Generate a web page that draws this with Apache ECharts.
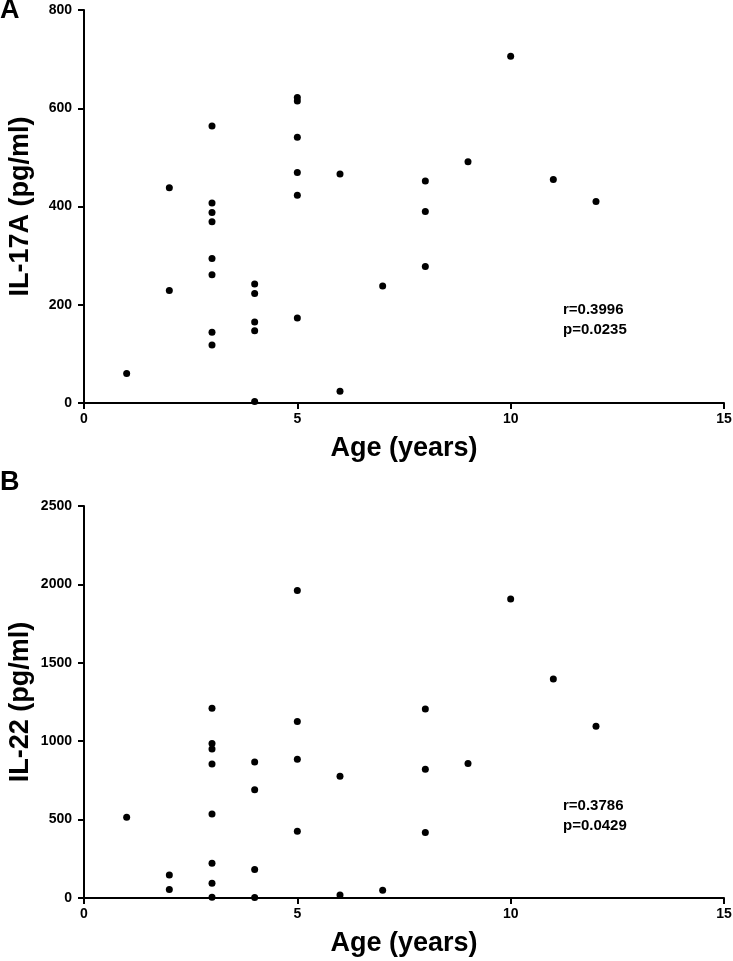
<!DOCTYPE html>
<html><head><meta charset="utf-8">
<script src="https://cdn.jsdelivr.net/npm/echarts@6/dist/echarts.min.js"></script>
<style>html,body{margin:0;padding:0;background:#fff}#c{width:733px;height:961px}</style>
</head><body><div id="c"></div>
<script>
// Panel A: IL-17A vs age
const ageA   = [1, 2, 2, 3, 3, 3, 3, 3, 3, 3, 3, 4, 4, 4, 4, 4, 5, 5, 5, 5, 5, 5, 6, 6, 7, 8, 8, 8, 9, 10, 11, 12];
const il17a  = [60, 438, 229, 564, 407, 388, 369, 294, 261, 144, 118, 242, 223, 165, 147, 3, 622, 615, 541, 469, 423, 173, 466, 24, 238, 452, 390, 278, 491, 706, 455, 410];
// Panel B: IL-22 vs age
const ageB   = [1, 2, 2, 3, 3, 3, 3, 3, 3, 3, 3, 4, 4, 4, 4, 5, 5, 5, 5, 6, 6, 7, 8, 8, 8, 9, 10, 11, 12];
const il22   = [515, 147, 55, 1210, 985, 950, 855, 536, 221, 94, 5, 867, 691, 181, 3, 1961, 1125, 885, 425, 776, 19, 49, 1205, 821, 417, 857, 1907, 1397, 1095];
// Axis ticks
const xTicks  = [0, 5, 10, 15];
const yTicksA = [0, 200, 400, 600, 800];
const yTicksB = [0, 500, 1000, 1500, 2000, 2500];
// Texts
const panelLabels = ['A', 'B'];
const xTitle = 'Age (years)';
const yTitles = ['IL-17A (pg/ml)', 'IL-22 (pg/ml)'];
const statsA = ['r=0.3996', 'p=0.0235'];
const statsB = ['r=0.3786', 'p=0.0429'];

const FONT = '"Liberation Sans", Arial, Helvetica, sans-serif';
const chart = echarts.init(document.getElementById('c'), null, {renderer: 'canvas'});

function xAxisFor(gridIndex) {
  return {
    type: 'value', gridIndex: gridIndex,
    min: xTicks[0], max: xTicks[xTicks.length - 1], interval: xTicks[1] - xTicks[0],
    name: xTitle, nameLocation: 'middle', nameGap: 32, nameMoveOverlap: false,
    nameTextStyle: {fontFamily: FONT, fontWeight: 'bold', fontSize: 27, color: '#000'},
    axisLine: {show: true, onZero: false, lineStyle: {color: '#000', width: 2}},
    axisTick: {show: true, inside: false, length: 6, lineStyle: {color: '#000', width: 2}},
    axisLabel: {fontFamily: FONT, fontWeight: 'bold', fontSize: 14, color: '#000', margin: 9,
                formatter: function (v) { return String(v); }},
    splitLine: {show: false}
  };
}
function yAxisFor(gridIndex, ticks, title) {
  return {
    type: 'value', gridIndex: gridIndex,
    min: ticks[0], max: ticks[ticks.length - 1], interval: ticks[1] - ticks[0],
    name: title, nameLocation: 'middle', nameGap: 50, nameMoveOverlap: false,
    nameTextStyle: {fontFamily: FONT, fontWeight: 'bold', fontSize: 27, color: '#000'},
    axisLine: {show: true, onZero: false, lineStyle: {color: '#000', width: 2}},
    axisTick: {show: true, inside: false, length: 6, lineStyle: {color: '#000', width: 2}},
    axisLabel: {fontFamily: FONT, fontWeight: 'bold', fontSize: 14, color: '#000', margin: 12,
                formatter: function (v) { return String(v); }},
    splitLine: {show: false}
  };
}
function statText(lines, x, y) {
  return lines.map(function (t, i) {
    return {
      type: 'text', x: x, y: y + i * 20,
      style: {text: t, fontFamily: FONT, fontWeight: 'bold', fontSize: 15,
              fill: '#000', textAlign: 'left', textVerticalAlign: 'middle'}
    };
  });
}

chart.setOption({
  backgroundColor: '#fff',
  animation: false,
  grid: [
    {left: 84, top: 10, width: 640, height: 393, outerBoundsMode: 'none', containLabel: false},
    {left: 84, top: 506, width: 640, height: 392, outerBoundsMode: 'none', containLabel: false}
  ],
  xAxis: [xAxisFor(0), xAxisFor(1)],
  yAxis: [yAxisFor(0, yTicksA, yTitles[0]), yAxisFor(1, yTicksB, yTitles[1])],
  series: [
    {type: 'scatter', xAxisIndex: 0, yAxisIndex: 0, symbol: 'circle', symbolSize: 7, clip: false,
     itemStyle: {color: '#000', opacity: 1}, data: ageA.map(function (a, i) { return [a, il17a[i]]; })},
    {type: 'scatter', xAxisIndex: 1, yAxisIndex: 1, symbol: 'circle', symbolSize: 7, clip: false,
     itemStyle: {color: '#000', opacity: 1}, data: ageB.map(function (a, i) { return [a, il22[i]]; })}
  ],
  graphic: [
    {type: 'text', x: 0, y: 11, style: {text: panelLabels[0], fontFamily: FONT, fontWeight: 'bold', fontSize: 27, fill: '#000', textAlign: 'left', textVerticalAlign: 'middle'}},
    {type: 'text', x: 0, y: 483, style: {text: panelLabels[1], fontFamily: FONT, fontWeight: 'bold', fontSize: 27, fill: '#000', textAlign: 'left', textVerticalAlign: 'middle'}}
  ].concat(statText(statsA, 563, 310)).concat(statText(statsB, 563, 806))
});
</script>
</body></html>
